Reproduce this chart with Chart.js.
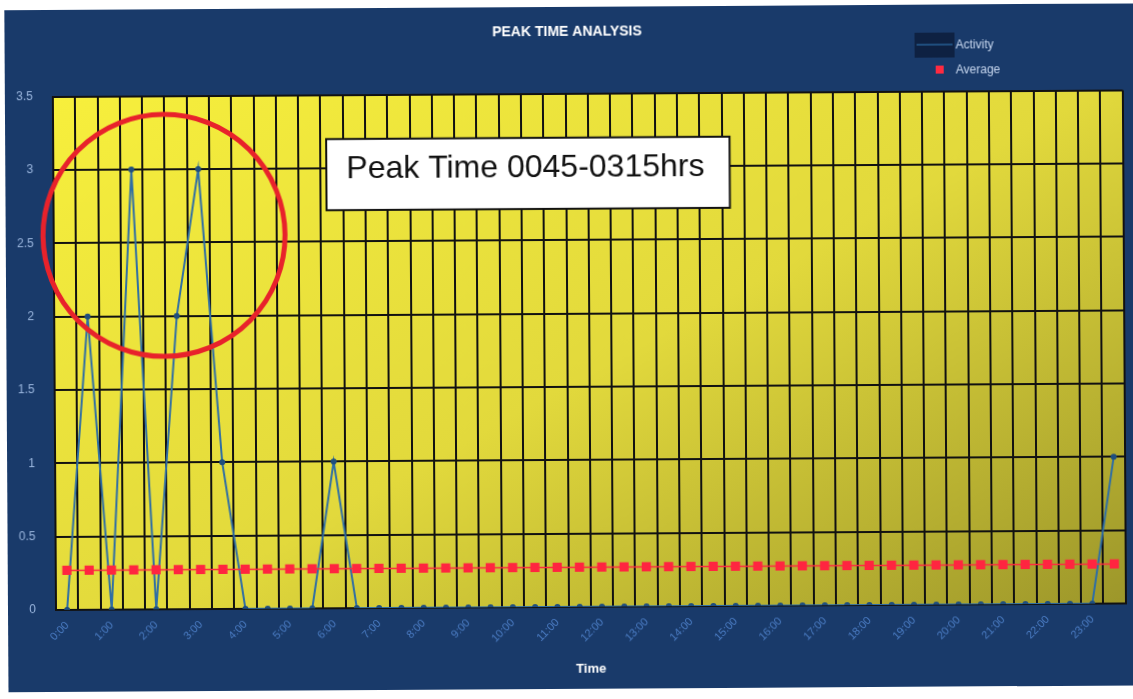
<!DOCTYPE html>
<html>
<head>
<meta charset="utf-8">
<script src="https://cdn.jsdelivr.net/npm/chart.js@4.4.0/dist/chart.umd.min.js"></script>
<style>
  html, body { margin: 0; padding: 0; background: #fff; width: 1133px; height: 699px; overflow: hidden; }
  #frame {
    position: absolute; left: 8px; top: 10px; width: 1130px; height: 682px;
    background: #193a6a; transform: rotate(-0.35deg); transform-origin: 48px 600px;
    font-family: 'Liberation Sans', Arial, sans-serif;
  }
  #frame canvas { position: absolute; left: 0; top: 0; }
  .lg-text { position: absolute; color: #c6d6ee; font-size: 12px; line-height: 14px; }
  .lg-box { position: absolute; }
</style>
</head>
<body>
<div id="frame">
  <canvas id="peakChart" width="1125" height="682"></canvas>
  <div class="lg-box" style="left:910px; top:28px; width:40px; height:25px; background:#0e2142;"></div>
  <div class="lg-box" style="left:912px; top:39px; width:36px; height:2px; background:#1f4e7e;"></div>
  <div class="lg-text" style="left:951px; top:33px;">Activity</div>
  <div class="lg-box" style="left:931px; top:61px; width:8px; height:8px; background:#ff2a40;"></div>
  <div class="lg-text" style="left:951px; top:58px;">Average</div>
</div>
<script>
// intervalos de meia hora
const timeLabels = [
  "0:00", "0:30", "1:00", "1:30", "2:00", "2:30", "3:00", "3:30",
  "4:00", "4:30", "5:00", "5:30", "6:00", "6:30", "7:00", "7:30",
  "8:00", "8:30", "9:00", "9:30", "10:00", "10:30", "11:00", "11:30",
  "12:00", "12:30", "13:00", "13:30", "14:00", "14:30", "15:00", "15:30",
  "16:00", "16:30", "17:00", "17:30", "18:00", "18:30", "19:00", "19:30",
  "20:00", "20:30", "21:00", "21:30", "22:00", "22:30", "23:00", "23:30",
];

const activity = [
  0, 2, 0, 3, 0, 2, 3, 1,
  0, 0, 0, 0, 1, 0, 0, 0,
  0, 0, 0, 0, 0, 0, 0, 0,
  0, 0, 0, 0, 0, 0, 0, 0,
  0, 0, 0, 0, 0, 0, 0, 0,
  0, 0, 0, 0, 0, 0, 0, 1,
];

const average = [
  0.27, 0.27, 0.27, 0.27, 0.27, 0.27, 0.27, 0.27,
  0.27, 0.27, 0.27, 0.27, 0.27, 0.27, 0.27, 0.27,
  0.27, 0.27, 0.27, 0.27, 0.27, 0.27, 0.27, 0.27,
  0.27, 0.27, 0.27, 0.27, 0.27, 0.27, 0.27, 0.27,
  0.27, 0.27, 0.27, 0.27, 0.27, 0.27, 0.27, 0.27,
  0.27, 0.27, 0.27, 0.27, 0.27, 0.27, 0.27, 0.27,
];

const yMin = 0;
const yMax = 3.5;
const yStep = 0.5;

const calloutText = "Peak Time 0045-0315hrs";

Chart.defaults.font.family = "'Liberation Sans', Arial, sans-serif";

// fundo amarelo com degradê na área do gráfico
const plotBg = {
  id: "plotBg",
  beforeDraw(chart) {
    const { ctx, chartArea: a } = chart;
    const g = ctx.createLinearGradient(a.left, a.top, a.left + 600, a.top + 1100);
    g.addColorStop(0, "#f7ef3c");
    g.addColorStop(0.4, "#e2d93c");
    g.addColorStop(0.77, "#9c962a");
    g.addColorStop(1, "#8a8426");
    ctx.save();
    ctx.fillStyle = g;
    ctx.fillRect(a.left, a.top, a.width, a.height);
    ctx.restore();
  },
};

// anotações: círculo vermelho e caixa de texto
const notes = {
  id: "notes",
  afterDraw(chart) {
    const { ctx } = chart;
    const xs = chart.scales.x;
    const ys = chart.scales.y;
    ctx.save();

    ctx.beginPath();
    ctx.arc(xs.getPixelForValue(4.45), ys.getPixelForValue(2.55), 121, 0, Math.PI * 2);
    ctx.strokeStyle = "#e8222b";
    ctx.lineWidth = 5;
    ctx.stroke();

    const x0 = xs.getPixelForValue(11.75);
    const x1 = xs.getPixelForValue(29.85);
    const y0 = ys.getPixelForValue(3.2);
    const y1 = ys.getPixelForValue(2.715);
    ctx.fillStyle = "#ffffff";
    ctx.fillRect(x0, y0, x1 - x0, y1 - y0);
    ctx.strokeStyle = "#111";
    ctx.lineWidth = 2;
    ctx.strokeRect(x0, y0, x1 - x0, y1 - y0);

    ctx.fillStyle = "#111";
    ctx.font = "32px 'Liberation Sans', Arial, sans-serif";
    ctx.textBaseline = "alphabetic";
    ctx.fillText(calloutText, xs.getPixelForValue(12.65), ys.getPixelForValue(2.93));
    ctx.restore();
  },
};

const ctx = document.getElementById("peakChart").getContext("2d");
new Chart(ctx, {
  type: "line",
  data: {
    labels: timeLabels,
    datasets: [
      {
        label: "Average",
        data: average,
        order: 0,
        borderColor: "#ff2a40",
        borderWidth: 1.5,
        pointStyle: "rect",
        pointRadius: 6.5,
        pointBackgroundColor: "#ff2540",
        pointBorderWidth: 0,
        tension: 0,
      },
      {
        label: "Activity",
        data: activity,
        order: 1,
        borderColor: "#2f6ea5",
        borderWidth: 2,
        pointRadius: 3,
        pointBackgroundColor: "#1f4e7e",
        pointBorderWidth: 0,
        tension: 0,
      },
    ],
  },
  options: {
    responsive: false,
    animation: false,
    layout: { padding: { left: 0, right: 0, top: 0, bottom: 8 } },
    plugins: {
      legend: { display: false },
      tooltip: { enabled: false },
      title: {
        display: true,
        text: "PEAK TIME ANALYSIS",
        color: "#ffffff",
        font: { size: 14, weight: "bold" },
        padding: { top: 17, bottom: 53 },
      },
    },
    scales: {
      x: {
        offset: true,
        grid: { offset: true, color: "#111", lineWidth: 2, drawTicks: false },
        border: { color: "#111", width: 2 },
        ticks: {
          color: "#4a7cc4",
          font: { size: 11 },
          autoSkip: false,
          maxRotation: 45,
          minRotation: 45,
          padding: 9,
          callback: (v, i) => (i % 2 === 0 ? timeLabels[i] : ""),
        },
        title: {
          display: true,
          text: "Time",
          color: "#ffffff",
          font: { size: 13, weight: "bold" },
          padding: { top: 4, bottom: 4 },
        },
        afterFit(scale) {
          scale.height = 74;
        },
      },
      y: {
        min: yMin,
        max: yMax,
        grid: { color: "#111", lineWidth: 2, drawTicks: false },
        border: { color: "#111", width: 2 },
        ticks: {
          stepSize: yStep,
          color: "#9ab6de",
          font: { size: 12 },
          padding: 20,
          callback: (v) => String(v),
        },
        afterFit(scale) {
          scale.width = 48;
        },
      },
    },
  },
  plugins: [plotBg, notes],
});
</script>
</body>
</html>
